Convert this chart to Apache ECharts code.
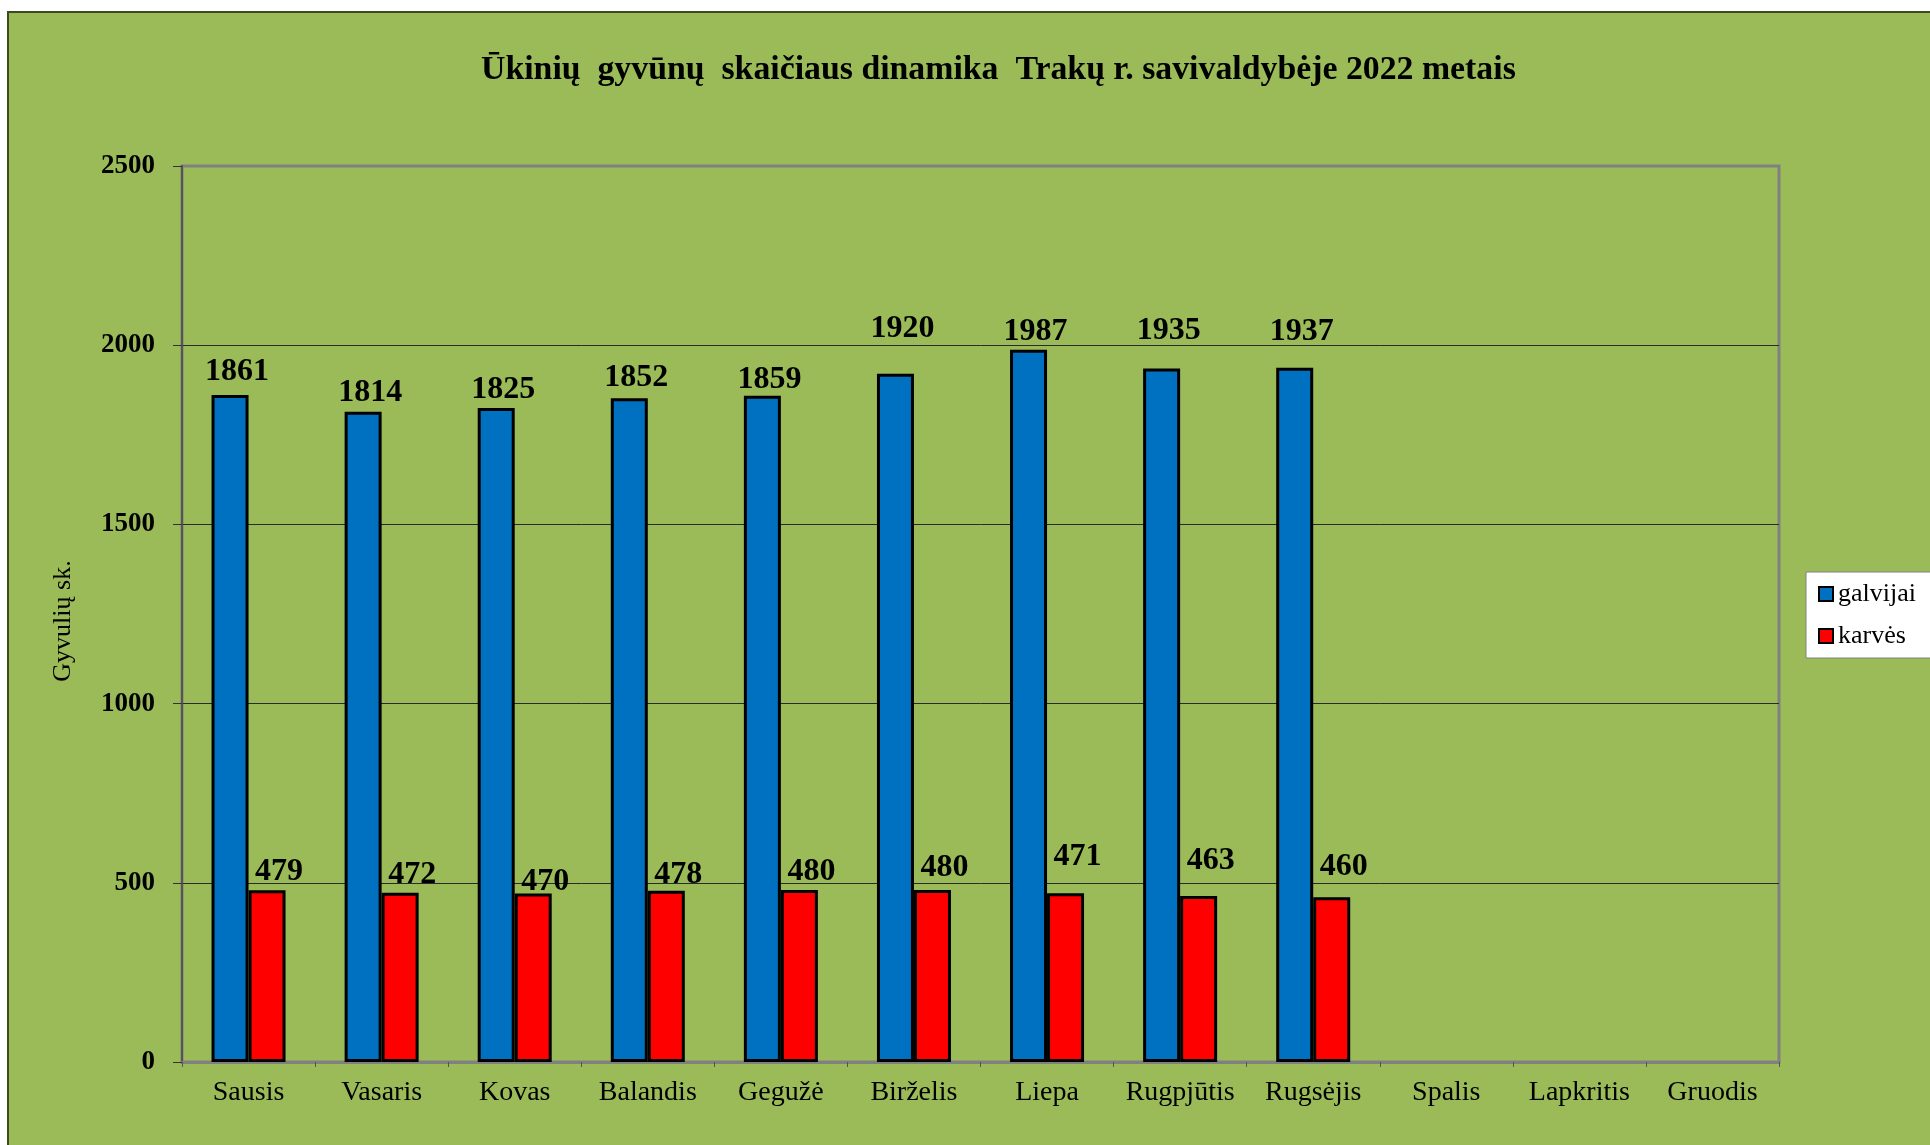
<!DOCTYPE html>
<html>
<head>
<meta charset="utf-8">
<script src="https://cdn.jsdelivr.net/npm/echarts@6/dist/echarts.min.js"></script>
<style>
  html, body { margin: 0; padding: 0; background: #ffffff; }
  #chart { width: 1930px; height: 1145px; }
</style>
</head>
<body>
<div id="chart"></div>
<script>
// menesiai
var months = ['Sausis', 'Vasaris', 'Kovas', 'Balandis', 'Gegužė', 'Birželis',
              'Liepa', 'Rugpjūtis', 'Rugsėjis', 'Spalis', 'Lapkritis', 'Gruodis'];
var galvijai = [1861, 1814, 1825, 1852, 1859, 1920, 1987, 1935, 1937, null, null, null];
var karves   = [479, 472, 470, 478, 480, 480, 471, 463, 460, null, null, null];
var yTicks = [0, 500, 1000, 1500, 2000, 2500];

// kai kurios etiketes pakeltos kaip originale (px)
var galvLift = [5, 1, 0, 3, -2, 27, 0, 20, 18, 0, 0, 0];
var karvLift = [1, 0, -6, -2, 0, 4, 18, 17, 12, 0, 0, 0];

var serif = 'Liberation Serif';
var chart = echarts.init(document.getElementById('chart'));

function items(vals, lift, dx) {
    return vals.map(function (v, i) {
        if (v == null) return '-';
        return { value: v, label: { offset: [dx, -lift[i]] } };
    });
}

var barLabel = {
    show: true,
    position: 'top',
    distance: 2,
    color: '#000',
    fontFamily: serif,
    fontWeight: 'bold',
    fontSize: 32
};

var option = {
    backgroundColor: '#ffffff',
    animation: false,
    graphic: [{
        type: 'rect',
        z: -10,
        shape: { x: 8, y: 12, width: 1940, height: 1150 },
        style: { fill: '#9bbb59', stroke: '#3b4a1f', lineWidth: 2 }
    }],
    title: {
        text: 'Ūkinių  gyvūnų  skaičiaus dinamika  Trakų r. savivaldybėje 2022 metais',
        left: 476,
        top: 48,
        textStyle: { fontFamily: serif, fontWeight: 'bold', fontSize: 33.8, color: '#000' }
    },
    legend: {
        orient: 'vertical',
        left: 1806,
        top: 572,
        padding: [9, 40, 9, 12],
        itemGap: 16,
        itemWidth: 14,
        itemHeight: 14,
        icon: 'rect',
        backgroundColor: '#ffffff',
        borderColor: '#808080',
        borderWidth: 1,
        itemStyle: { borderColor: '#000', borderWidth: 2 },
        textStyle: { fontFamily: serif, fontSize: 26, color: '#000' },
        data: ['galvijai', 'karvės']
    },
    grid: {
        left: 182,
        right: 151,
        top: 166,
        bottom: 83,
        show: true,
        backgroundColor: 'transparent',
        borderColor: '#808080',
        borderWidth: 3
    },
    xAxis: {
        type: 'category',
        data: months,
        boundaryGap: true,
        axisLine: { lineStyle: { color: '#808080', width: 3 } },
        axisTick: { show: true, alignWithLabel: false, length: 5, lineStyle: { color: '#555', width: 1 } },
        axisLabel: { margin: 17, fontFamily: serif, fontSize: 28, color: '#000', interval: 0 }
    },
    yAxis: {
        type: 'value',
        min: yTicks[0],
        max: yTicks[yTicks.length - 1],
        interval: 500,
        name: 'Gyvulių sk.',
        nameLocation: 'middle',
        nameRotate: 90,
        nameGap: 106,
        nameTextStyle: { fontFamily: serif, fontSize: 26, color: '#000', padding: [0, 14, 0, 0] },
        axisLine: { show: true, lineStyle: { color: '#555', width: 2 } },
        axisTick: { show: true, inside: false, length: 9, lineStyle: { color: '#333', width: 1 } },
        axisLabel: {
            margin: 27, fontFamily: serif, fontWeight: 'bold', fontSize: 27, color: '#000',
            formatter: function (v) { return String(v); }
        },
        splitLine: { show: true, showMinLine: false, showMaxLine: false, lineStyle: { color: '#2a2a2a', width: 1 } }
    },
    series: [{
        name: 'galvijai',
        type: 'bar',
        barWidth: 37,
        barGap: '0%',
        data: items(galvijai, galvLift, 7),
        itemStyle: { color: '#0070c0', borderColor: '#000', borderWidth: 3 },
        label: barLabel
    }, {
        name: 'karvės',
        type: 'bar',
        barWidth: 37,
        barGap: '0%',
        data: items(karves, karvLift, 12),
        itemStyle: { color: '#ff0000', borderColor: '#000', borderWidth: 3 },
        label: barLabel
    }]
};

chart.setOption(option);
</script>
</body>
</html>
